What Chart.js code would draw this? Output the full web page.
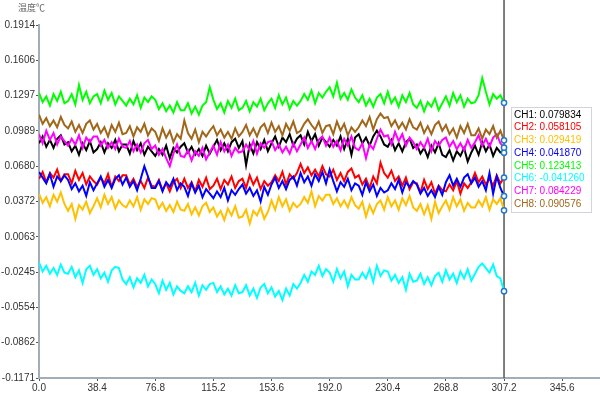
<!DOCTYPE html>
<html>
<head>
<meta charset="utf-8">
<script src="https://cdn.jsdelivr.net/npm/chart.js@4.4.0/dist/chart.umd.min.js"></script>
<style>
body { margin: 0; background: #fff; }
</style>
</head>
<body>
<canvas id="myChart" width="600" height="395"></canvas>
<script>
"use strict";

const channelNames = ['CH1', 'CH2', 'CH3', 'CH4', 'CH5', 'CH6', 'CH7', 'CH8'];
const lineColors = ['#000000', '#ff0000', '#ffc000', '#0000ff', '#00ff00', '#00ffff', '#ff00ff', '#a0661a'];
const yTitle = '温度℃';

// samples every 2.4 s
const ch1 = [
    0.088, 0.094, 0.085, 0.091, 0.084, 0.092, 0.095, 0.087,
    0.089, 0.081, 0.086, 0.078, 0.088, 0.082, 0.090, 0.080,
    0.083, 0.089, 0.080, 0.088, 0.084, 0.091, 0.081, 0.087,
    0.087, 0.079, 0.090, 0.082, 0.088, 0.078, 0.085, 0.081,
    0.077, 0.083, 0.078, 0.086, 0.075, 0.084, 0.080, 0.085,
    0.088, 0.080, 0.085, 0.078, 0.083, 0.077, 0.086, 0.079,
    0.085, 0.091, 0.082, 0.088, 0.081, 0.089, 0.092, 0.084,
    0.090, 0.069, 0.087, 0.079, 0.089, 0.083, 0.091, 0.081,
    0.088, 0.094, 0.085, 0.093, 0.089, 0.096, 0.086, 0.092,
    0.095, 0.087, 0.098, 0.090, 0.096, 0.086, 0.093, 0.089,
    0.085, 0.091, 0.086, 0.094, 0.083, 0.092, 0.078, 0.093,
    0.096, 0.088, 0.093, 0.086, 0.094, 0.099, 0.094, 0.087,
    0.085, 0.091, 0.082, 0.088, 0.081, 0.089, 0.092, 0.084,
    0.087, 0.079, 0.084, 0.076, 0.086, 0.080, 0.088, 0.078,
    0.076, 0.082, 0.073, 0.081, 0.077, 0.084, 0.072, 0.080,
    0.086, 0.078, 0.089, 0.081, 0.087, 0.077, 0.084, 0.080,
    0.079834
];
const ch2 = [
    0.057, 0.063, 0.054, 0.062, 0.058, 0.065, 0.055, 0.061,
    0.061, 0.053, 0.064, 0.056, 0.062, 0.052, 0.059, 0.055,
    0.052, 0.058, 0.053, 0.061, 0.050, 0.059, 0.055, 0.060,
    0.060, 0.052, 0.057, 0.050, 0.055, 0.049, 0.058, 0.051,
    0.050, 0.056, 0.047, 0.053, 0.046, 0.054, 0.057, 0.049,
    0.057, 0.049, 0.054, 0.046, 0.056, 0.050, 0.058, 0.048,
    0.051, 0.057, 0.048, 0.056, 0.052, 0.059, 0.049, 0.055,
    0.057, 0.049, 0.060, 0.052, 0.058, 0.048, 0.055, 0.051,
    0.054, 0.060, 0.055, 0.063, 0.052, 0.061, 0.057, 0.062,
    0.070, 0.062, 0.067, 0.060, 0.065, 0.059, 0.068, 0.061,
    0.059, 0.065, 0.056, 0.062, 0.055, 0.063, 0.066, 0.058,
    0.060, 0.052, 0.057, 0.049, 0.059, 0.053, 0.071, 0.062,
    0.058, 0.064, 0.055, 0.059, 0.051, 0.058, 0.048, 0.054,
    0.053, 0.045, 0.056, 0.048, 0.054, 0.044, 0.051, 0.047,
    0.046, 0.052, 0.047, 0.055, 0.044, 0.053, 0.049, 0.054,
    0.062, 0.054, 0.059, 0.052, 0.057, 0.051, 0.060, 0.053,
    0.058105
];
const ch3 = [
    0.044, 0.036, 0.041, 0.033, 0.043, 0.037, 0.045, 0.035,
    0.029, 0.035, 0.022, 0.034, 0.030, 0.037, 0.027, 0.033,
    0.040, 0.032, 0.043, 0.035, 0.041, 0.031, 0.038, 0.034,
    0.032, 0.038, 0.033, 0.041, 0.030, 0.039, 0.035, 0.040,
    0.039, 0.031, 0.036, 0.029, 0.034, 0.028, 0.037, 0.030,
    0.029, 0.035, 0.026, 0.032, 0.025, 0.033, 0.036, 0.028,
    0.032, 0.024, 0.029, 0.021, 0.031, 0.025, 0.033, 0.023,
    0.024, 0.030, 0.018, 0.029, 0.025, 0.032, 0.022, 0.028,
    0.038, 0.030, 0.041, 0.033, 0.039, 0.029, 0.036, 0.032,
    0.035, 0.041, 0.036, 0.046, 0.033, 0.042, 0.038, 0.043,
    0.043, 0.035, 0.040, 0.033, 0.038, 0.032, 0.041, 0.034,
    0.031, 0.037, 0.024, 0.034, 0.027, 0.035, 0.038, 0.030,
    0.041, 0.033, 0.038, 0.030, 0.040, 0.034, 0.042, 0.032,
    0.029, 0.035, 0.026, 0.034, 0.022, 0.037, 0.027, 0.033,
    0.038, 0.030, 0.041, 0.033, 0.039, 0.029, 0.036, 0.032,
    0.032, 0.038, 0.033, 0.041, 0.030, 0.039, 0.035, 0.040,
    0.029419
];
const ch4 = [
    0.063, 0.058, 0.053, 0.061, 0.050, 0.059, 0.055, 0.060,
    0.056, 0.048, 0.053, 0.046, 0.051, 0.042, 0.054, 0.047,
    0.053, 0.059, 0.050, 0.056, 0.049, 0.057, 0.060, 0.052,
    0.058, 0.050, 0.055, 0.047, 0.057, 0.068, 0.059, 0.049,
    0.049, 0.055, 0.046, 0.054, 0.050, 0.057, 0.047, 0.053,
    0.050, 0.042, 0.053, 0.045, 0.051, 0.041, 0.048, 0.044,
    0.040, 0.046, 0.041, 0.049, 0.038, 0.047, 0.043, 0.048,
    0.052, 0.044, 0.049, 0.042, 0.047, 0.037, 0.050, 0.043,
    0.052, 0.058, 0.049, 0.055, 0.048, 0.056, 0.059, 0.051,
    0.062, 0.054, 0.059, 0.051, 0.061, 0.055, 0.063, 0.053,
    0.065, 0.055, 0.046, 0.054, 0.050, 0.057, 0.047, 0.053,
    0.051, 0.043, 0.054, 0.046, 0.052, 0.042, 0.049, 0.045,
    0.047, 0.053, 0.048, 0.056, 0.045, 0.054, 0.050, 0.055,
    0.052, 0.044, 0.049, 0.042, 0.047, 0.041, 0.050, 0.043,
    0.054, 0.060, 0.051, 0.057, 0.050, 0.058, 0.061, 0.053,
    0.058, 0.050, 0.055, 0.047, 0.062, 0.044, 0.059, 0.049,
    0.041870
];
const ch5 = [
    0.132, 0.124, 0.129, 0.121, 0.131, 0.125, 0.133, 0.123,
    0.125, 0.131, 0.122, 0.139, 0.126, 0.133, 0.123, 0.129,
    0.131, 0.123, 0.134, 0.126, 0.132, 0.122, 0.129, 0.125,
    0.121, 0.127, 0.122, 0.130, 0.119, 0.128, 0.124, 0.129,
    0.126, 0.118, 0.123, 0.116, 0.121, 0.115, 0.124, 0.117,
    0.117, 0.123, 0.114, 0.120, 0.113, 0.121, 0.124, 0.137,
    0.126, 0.118, 0.123, 0.115, 0.125, 0.119, 0.127, 0.117,
    0.119, 0.125, 0.116, 0.124, 0.120, 0.127, 0.117, 0.123,
    0.127, 0.119, 0.130, 0.122, 0.128, 0.118, 0.125, 0.121,
    0.125, 0.131, 0.126, 0.134, 0.123, 0.132, 0.128, 0.133,
    0.137, 0.129, 0.141, 0.127, 0.132, 0.126, 0.135, 0.128,
    0.124, 0.130, 0.121, 0.127, 0.120, 0.128, 0.131, 0.123,
    0.133, 0.123, 0.128, 0.120, 0.130, 0.124, 0.132, 0.122,
    0.119, 0.125, 0.116, 0.124, 0.120, 0.127, 0.117, 0.123,
    0.129, 0.121, 0.132, 0.124, 0.130, 0.120, 0.127, 0.123,
    0.124, 0.130, 0.145, 0.133, 0.122, 0.131, 0.127, 0.130,
    0.123413
];
const ch6 = [
    -0.016, -0.024, -0.019, -0.026, -0.021, -0.027, -0.018, -0.025,
    -0.026, -0.020, -0.029, -0.023, -0.034, -0.022, -0.019, -0.027,
    -0.022, -0.030, -0.025, -0.033, -0.023, -0.020, -0.021, -0.031,
    -0.035, -0.029, -0.038, -0.030, -0.034, -0.027, -0.037, -0.031,
    -0.035, -0.043, -0.032, -0.040, -0.034, -0.044, -0.037, -0.041,
    -0.043, -0.037, -0.042, -0.034, -0.045, -0.036, -0.040, -0.035,
    -0.034, -0.042, -0.037, -0.044, -0.039, -0.045, -0.036, -0.043,
    -0.042, -0.036, -0.045, -0.039, -0.047, -0.038, -0.035, -0.043,
    -0.038, -0.046, -0.041, -0.049, -0.039, -0.045, -0.035, -0.039,
    -0.034, -0.027, -0.033, -0.024, -0.027, -0.019, -0.028, -0.022,
    -0.025, -0.033, -0.022, -0.030, -0.024, -0.037, -0.027, -0.031,
    -0.031, -0.025, -0.030, -0.022, -0.033, -0.019, -0.028, -0.023,
    -0.024, -0.032, -0.027, -0.034, -0.029, -0.040, -0.026, -0.033,
    -0.032, -0.026, -0.035, -0.029, -0.036, -0.028, -0.025, -0.033,
    -0.023, -0.031, -0.026, -0.034, -0.024, -0.030, -0.022, -0.032,
    -0.026, -0.020, -0.017, -0.021, -0.025, -0.018, -0.028, -0.030,
    -0.041260
];
const ch7 = [
    0.096, 0.088, 0.099, 0.091, 0.097, 0.087, 0.094, 0.090,
    0.086, 0.092, 0.087, 0.095, 0.084, 0.093, 0.089, 0.094,
    0.094, 0.086, 0.091, 0.084, 0.089, 0.083, 0.092, 0.085,
    0.084, 0.090, 0.081, 0.087, 0.080, 0.088, 0.091, 0.083,
    0.086, 0.078, 0.083, 0.075, 0.068, 0.079, 0.087, 0.077,
    0.076, 0.082, 0.073, 0.081, 0.077, 0.084, 0.074, 0.080,
    0.086, 0.078, 0.089, 0.081, 0.087, 0.077, 0.084, 0.080,
    0.081, 0.087, 0.082, 0.090, 0.079, 0.088, 0.084, 0.089,
    0.090, 0.082, 0.087, 0.080, 0.085, 0.079, 0.088, 0.081,
    0.087, 0.093, 0.084, 0.090, 0.083, 0.091, 0.094, 0.086,
    0.093, 0.085, 0.090, 0.082, 0.092, 0.086, 0.094, 0.084,
    0.082, 0.088, 0.075, 0.087, 0.083, 0.092, 0.100, 0.094,
    0.095, 0.087, 0.098, 0.090, 0.096, 0.086, 0.093, 0.089,
    0.083, 0.089, 0.084, 0.092, 0.081, 0.090, 0.086, 0.091,
    0.093, 0.085, 0.090, 0.083, 0.088, 0.082, 0.091, 0.084,
    0.089, 0.095, 0.086, 0.092, 0.085, 0.093, 0.096, 0.088,
    0.084229
];
const ch8 = [
    0.113, 0.105, 0.110, 0.103, 0.108, 0.102, 0.111, 0.104,
    0.101, 0.107, 0.098, 0.104, 0.097, 0.105, 0.108, 0.100,
    0.105, 0.097, 0.102, 0.094, 0.104, 0.098, 0.106, 0.096,
    0.097, 0.103, 0.094, 0.102, 0.098, 0.105, 0.095, 0.101,
    0.098, 0.090, 0.101, 0.093, 0.099, 0.089, 0.096, 0.092,
    0.108, 0.097, 0.092, 0.100, 0.089, 0.098, 0.094, 0.099,
    0.103, 0.095, 0.100, 0.093, 0.098, 0.092, 0.101, 0.094,
    0.098, 0.104, 0.095, 0.101, 0.094, 0.102, 0.105, 0.097,
    0.106, 0.098, 0.103, 0.095, 0.105, 0.099, 0.107, 0.097,
    0.099, 0.105, 0.109, 0.104, 0.100, 0.107, 0.097, 0.103,
    0.104, 0.096, 0.107, 0.099, 0.105, 0.095, 0.102, 0.098,
    0.102, 0.108, 0.103, 0.111, 0.100, 0.109, 0.114, 0.110,
    0.111, 0.103, 0.108, 0.101, 0.106, 0.100, 0.109, 0.102,
    0.100, 0.106, 0.097, 0.103, 0.096, 0.104, 0.107, 0.099,
    0.104, 0.096, 0.101, 0.093, 0.103, 0.097, 0.105, 0.095,
    0.095, 0.101, 0.092, 0.100, 0.096, 0.103, 0.093, 0.099,
    0.090576
];

const series = [ch1, ch2, ch3, ch4, ch5, ch6, ch7, ch8];
const sampleStep = 2.4;
const times = ch1.map((_, i) => Math.round(i * sampleStep * 10) / 10);

const xTicks = [0, 38.4, 76.8, 115.2, 153.6, 192.0, 230.4, 268.8, 307.2, 345.6];
const yTicks = [0.1914, 0.1606, 0.1297, 0.0989, 0.0680, 0.0372, 0.0063, -0.0245, -0.0554, -0.0862, -0.1171];
const cursorX = 307.2;

const fontFamily = '"Liberation Sans", Arial, "Noto Sans CJK SC", sans-serif';
const axisColor = '#a3adb8';
const lastIndex = times.length - 1;

const cursorPlugin = {
    id: 'cursor',
    beforeDatasetsDraw(chart) {
        const ctx = chart.ctx;
        const x = chart.scales.x.getPixelForValue(cursorX);
        ctx.save();
        ctx.strokeStyle = '#555555';
        ctx.lineWidth = 1.5;
        ctx.beginPath();
        ctx.moveTo(x, 0);
        ctx.lineTo(x, chart.chartArea.bottom);
        ctx.stroke();
        ctx.restore();
    },
    afterDraw(chart) {
        const ctx = chart.ctx;
        ctx.save();
        // axis title
        ctx.fillStyle = '#666666';
        ctx.font = '9px ' + fontFamily;
        ctx.textBaseline = 'middle';
        ctx.textAlign = 'left';
        ctx.fillText(yTitle, 18, 9);

        // value box at the cursor
        const x = chart.scales.x.getPixelForValue(cursorX) + 7;
        const top = 107;
        const idx = times.indexOf(cursorX);
        ctx.fillStyle = '#ffffff';
        ctx.fillRect(x, top, 80, 105);
        ctx.strokeStyle = '#d0d5dd';
        ctx.lineWidth = 1;
        ctx.strokeRect(x + 0.5, top + 0.5, 80, 105);
        ctx.font = '10px ' + fontFamily;
        channelNames.forEach((name, i) => {
            ctx.fillStyle = lineColors[i];
            ctx.fillText(name + ': ' + series[i][idx].toFixed(6), x + 3, top + 8 + i * 12.7);
        });
        ctx.restore();
    }
};

const ctx = document.getElementById('myChart');

const chart = new Chart(ctx, {
    type: 'line',
    data: {
        datasets: series.map((values, i) => ({
            label: channelNames[i],
            data: values.map((v, j) => ({x: times[j], y: v})),
            borderColor: lineColors[i],
            borderWidth: 2,
            tension: 0,
            order: 8 - i,
            pointRadius: (c) => c.dataIndex === lastIndex ? 2.6 : 0,
            pointBorderColor: '#1f78c8',
            pointBackgroundColor: '#ffffff',
            pointBorderWidth: 1.5
        }))
    },
    options: {
        responsive: false,
        animation: false,
        layout: {
            autoPadding: false,
            padding: {top: 25, right: 0, bottom: 0, left: 0}
        },
        plugins: {
            legend: {display: false},
            tooltip: {enabled: false}
        },
        scales: {
            x: {
                type: 'linear',
                min: 0,
                max: 370.6,
                afterBuildTicks: (axis) => { axis.ticks = xTicks.map(v => ({value: v})); },
                afterFit: (axis) => { axis.height = 17; },
                grid: {drawOnChartArea: false, drawTicks: true, tickLength: 3, color: '#555555'},
                border: {display: true, color: axisColor, width: 2},
                ticks: {
                    padding: 1,
                    color: '#333333',
                    font: {family: fontFamily, size: 10},
                    maxRotation: 0,
                    callback: (v) => Number(v).toFixed(1)
                }
            },
            y: {
                min: -0.1171,
                max: 0.1914,
                afterBuildTicks: (axis) => { axis.ticks = yTicks.map(v => ({value: v})); },
                afterFit: (axis) => { axis.width = 39; },
                grid: {drawOnChartArea: false, drawTicks: true, tickLength: 3, color: '#555555'},
                border: {display: true, color: axisColor, width: 2},
                ticks: {
                    padding: 1,
                    color: '#333333',
                    font: {family: fontFamily, size: 10},
                    callback: (v) => Number(v).toFixed(4)
                }
            }
        }
    },
    plugins: [cursorPlugin]
});
</script>
</body>
</html>
